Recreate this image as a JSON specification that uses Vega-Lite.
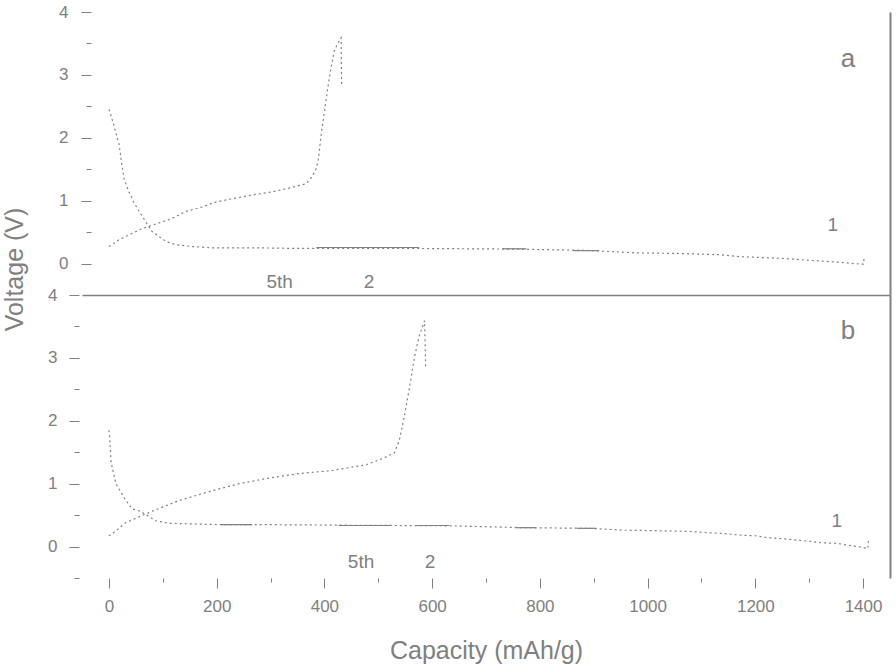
{
  "$schema": "https://vega.github.io/schema/vega-lite/v6.json",
  "background": "white",
  "padding": {"left": 2, "top": 3, "right": 3, "bottom": 4},
  "spacing": 0,
  "bounds": "flush",
  "config": {
    "view": {"stroke": null},
    "axis": {"labelFont": "Liberation Sans", "titleFont": "Liberation Sans", "labelColor": "#808080", "titleColor": "#808080", "tickColor": "#808080", "domainColor": "#808080", "titleFontWeight": "normal", "grid": false},
    "text": {"font": "Liberation Sans", "color": "#808080"}
  },
  "datasets": {
    "top": [
      {"cap": 0, "v": 2.45, "s": "discharge"}, {"cap": 2, "v": 2.41, "s": "discharge"}, {"cap": 9, "v": 2.2, "s": "discharge"}, {"cap": 19, "v": 1.89, "s": "discharge"}, {"cap": 24, "v": 1.57, "s": "discharge"}, {"cap": 28, "v": 1.35, "s": "discharge"}, {"cap": 37, "v": 1.14, "s": "discharge"}, {"cap": 46, "v": 0.98, "s": "discharge"}, {"cap": 56, "v": 0.83, "s": "discharge"}, {"cap": 80, "v": 0.51, "s": "discharge"}, {"cap": 106, "v": 0.35, "s": "discharge"}, {"cap": 124, "v": 0.3, "s": "discharge"}, {"cap": 154, "v": 0.27, "s": "discharge"}, {"cap": 192, "v": 0.25, "s": "discharge"}, {"cap": 275, "v": 0.25, "s": "discharge"}, {"cap": 353, "v": 0.24, "s": "discharge"}, {"cap": 576, "v": 0.24, "s": "discharge"}, {"cap": 750, "v": 0.23, "s": "discharge"}, {"cap": 886, "v": 0.21, "s": "discharge"}, {"cap": 978, "v": 0.17, "s": "discharge"}, {"cap": 1060, "v": 0.16, "s": "discharge"}, {"cap": 1135, "v": 0.14, "s": "discharge"}, {"cap": 1171, "v": 0.11, "s": "discharge"}, {"cap": 1200, "v": 0.1, "s": "discharge"}, {"cap": 1255, "v": 0.08, "s": "discharge"}, {"cap": 1303, "v": 0.05, "s": "discharge"}, {"cap": 1358, "v": 0.02, "s": "discharge"}, {"cap": 1383, "v": 0.0, "s": "discharge"}, {"cap": 1401, "v": -0.01, "s": "discharge"}, {"cap": 1402, "v": 0.11, "s": "discharge"},
      {"cap": 0, "v": 0.27, "s": "charge"}, {"cap": 9, "v": 0.32, "s": "charge"}, {"cap": 19, "v": 0.38, "s": "charge"}, {"cap": 60, "v": 0.55, "s": "charge"}, {"cap": 115, "v": 0.71, "s": "charge"}, {"cap": 143, "v": 0.83, "s": "charge"}, {"cap": 173, "v": 0.9, "s": "charge"}, {"cap": 199, "v": 0.98, "s": "charge"}, {"cap": 229, "v": 1.03, "s": "charge"}, {"cap": 266, "v": 1.09, "s": "charge"}, {"cap": 303, "v": 1.14, "s": "charge"}, {"cap": 340, "v": 1.21, "s": "charge"}, {"cap": 366, "v": 1.27, "s": "charge"}, {"cap": 377, "v": 1.38, "s": "charge"}, {"cap": 385, "v": 1.51, "s": "charge"}, {"cap": 389, "v": 1.67, "s": "charge"}, {"cap": 394, "v": 2.05, "s": "charge"}, {"cap": 400, "v": 2.41, "s": "charge"}, {"cap": 406, "v": 2.78, "s": "charge"}, {"cap": 412, "v": 3.1, "s": "charge"}, {"cap": 418, "v": 3.37, "s": "charge"}, {"cap": 424, "v": 3.49, "s": "charge"}, {"cap": 431, "v": 3.59, "s": "charge"}, {"cap": 432, "v": 2.83, "s": "charge"}
    ],
    "topSolid": [
      {"cap": 385, "v": 0.255, "s": "a"}, {"cap": 576, "v": 0.255, "s": "a"},
      {"cap": 730, "v": 0.235, "s": "b"}, {"cap": 775, "v": 0.235, "s": "b"},
      {"cap": 862, "v": 0.205, "s": "c"}, {"cap": 910, "v": 0.205, "s": "c"}
    ],
    "bottom": [
      {"cap": 0, "v": 1.85, "s": "discharge"}, {"cap": 1, "v": 1.78, "s": "discharge"}, {"cap": 4, "v": 1.34, "s": "discharge"}, {"cap": 13, "v": 1.0, "s": "discharge"}, {"cap": 28, "v": 0.78, "s": "discharge"}, {"cap": 43, "v": 0.6, "s": "discharge"}, {"cap": 59, "v": 0.56, "s": "discharge"}, {"cap": 87, "v": 0.41, "s": "discharge"}, {"cap": 112, "v": 0.37, "s": "discharge"}, {"cap": 200, "v": 0.35, "s": "discharge"}, {"cap": 266, "v": 0.35, "s": "discharge"}, {"cap": 430, "v": 0.34, "s": "discharge"}, {"cap": 630, "v": 0.33, "s": "discharge"}, {"cap": 770, "v": 0.3, "s": "discharge"}, {"cap": 890, "v": 0.29, "s": "discharge"}, {"cap": 958, "v": 0.26, "s": "discharge"}, {"cap": 1032, "v": 0.25, "s": "discharge"}, {"cap": 1079, "v": 0.24, "s": "discharge"}, {"cap": 1112, "v": 0.22, "s": "discharge"}, {"cap": 1138, "v": 0.21, "s": "discharge"}, {"cap": 1175, "v": 0.18, "s": "discharge"}, {"cap": 1203, "v": 0.17, "s": "discharge"}, {"cap": 1223, "v": 0.14, "s": "discharge"}, {"cap": 1242, "v": 0.13, "s": "discharge"}, {"cap": 1268, "v": 0.11, "s": "discharge"}, {"cap": 1305, "v": 0.08, "s": "discharge"}, {"cap": 1323, "v": 0.06, "s": "discharge"}, {"cap": 1353, "v": 0.05, "s": "discharge"}, {"cap": 1372, "v": 0.02, "s": "discharge"}, {"cap": 1390, "v": 0.0, "s": "discharge"}, {"cap": 1409, "v": -0.03, "s": "discharge"}, {"cap": 1410, "v": 0.1, "s": "discharge"},
      {"cap": 0, "v": 0.17, "s": "charge"}, {"cap": 13, "v": 0.25, "s": "charge"}, {"cap": 31, "v": 0.38, "s": "charge"}, {"cap": 74, "v": 0.54, "s": "charge"}, {"cap": 106, "v": 0.65, "s": "charge"}, {"cap": 130, "v": 0.73, "s": "charge"}, {"cap": 192, "v": 0.89, "s": "charge"}, {"cap": 242, "v": 1.0, "s": "charge"}, {"cap": 291, "v": 1.08, "s": "charge"}, {"cap": 353, "v": 1.16, "s": "charge"}, {"cap": 415, "v": 1.21, "s": "charge"}, {"cap": 477, "v": 1.3, "s": "charge"}, {"cap": 508, "v": 1.4, "s": "charge"}, {"cap": 530, "v": 1.49, "s": "charge"}, {"cap": 539, "v": 1.69, "s": "charge"}, {"cap": 548, "v": 2.05, "s": "charge"}, {"cap": 558, "v": 2.53, "s": "charge"}, {"cap": 567, "v": 3.0, "s": "charge"}, {"cap": 576, "v": 3.35, "s": "charge"}, {"cap": 586, "v": 3.59, "s": "charge"}, {"cap": 588, "v": 2.86, "s": "charge"}
    ],
    "bottomSolid": [
      {"cap": 208, "v": 0.35, "s": "a"}, {"cap": 266, "v": 0.35, "s": "a"},
      {"cap": 426, "v": 0.335, "s": "b"}, {"cap": 522, "v": 0.335, "s": "b"},
      {"cap": 569, "v": 0.335, "s": "c"}, {"cap": 632, "v": 0.335, "s": "c"},
      {"cap": 754, "v": 0.3, "s": "d"}, {"cap": 793, "v": 0.3, "s": "d"},
      {"cap": 869, "v": 0.29, "s": "e"}, {"cap": 905, "v": 0.29, "s": "e"}
    ],
    "topText": [
      {"cap": 1372, "v": 3.26, "t": "a", "k": "panel"},
      {"cap": 1344, "v": 0.62, "t": "1", "k": "note"},
      {"cap": 317, "v": -0.29, "t": "5th", "k": "note"},
      {"cap": 483, "v": -0.3, "t": "2", "k": "note"}
    ],
    "bottomText": [
      {"cap": 1372, "v": 3.42, "t": "b", "k": "panel"},
      {"cap": 1351, "v": 0.41, "t": "1", "k": "note"},
      {"cap": 468, "v": -0.24, "t": "5th", "k": "note"},
      {"cap": 596, "v": -0.24, "t": "2", "k": "note"}
    ]
  },
  "vconcat": [
    {
      "width": 808,
      "height": 283,
      "resolve": {"axis": {"y": "independent"}},
      "layer": [
        {
          "data": {"name": "top"},
          "mark": {"type": "line", "strokeDash": [2, 3], "strokeWidth": 1.2, "color": "#808080"},
          "encoding": {
            "x": {"field": "cap", "type": "quantitative", "scale": {"domain": [-50, 1450], "nice": false, "zero": false},
              "axis": {"orient": "bottom", "domain": true, "ticks": false, "labels": false, "title": null, "domainWidth": 1.5}},
            "y": {"field": "v", "type": "quantitative", "scale": {"domain": [-0.5, 4], "nice": false, "zero": false},
              "axis": {"orient": "left", "domain": false, "offset": -9, "values": [0, 0.5, 1, 1.5, 2, 2.5, 3, 3.5, 4],
                "tickSize": {"condition": {"test": "datum.value % 1 !== 0", "value": 5}, "value": 10},
                "labelExpr": "datum.value % 1 === 0 ? format(datum.value, 'd') : ''", "labelFontSize": 17, "labelPadding": 13,
                "title": "Voltage (V)", "titleFontSize": 25, "titleX": -77, "titleY": 257, "titleAngle": 270, "titleBaseline": "middle"}},
            "detail": {"field": "s", "type": "nominal"}
          }
        },
        {
          "data": {"name": "topSolid"},
          "mark": {"type": "line", "strokeWidth": 1.2, "color": "#808080"},
          "encoding": {
            "x": {"field": "cap", "type": "quantitative"},
            "y": {"field": "v", "type": "quantitative",
              "axis": {"orient": "right", "domain": true, "domainWidth": 2, "ticks": false, "labels": false, "title": null}},
            "detail": {"field": "s", "type": "nominal"}
          }
        },
        {
          "data": {"name": "topText"},
          "transform": [{"filter": "datum.k === 'panel'"}],
          "mark": {"type": "text", "fontSize": 26, "color": "#808080"},
          "encoding": {
            "x": {"field": "cap", "type": "quantitative"},
            "y": {"field": "v", "type": "quantitative", "axis": null},
            "text": {"field": "t"}
          }
        },
        {
          "data": {"name": "topText"},
          "transform": [{"filter": "datum.k === 'note'"}],
          "mark": {"type": "text", "fontSize": 19, "color": "#808080"},
          "encoding": {
            "x": {"field": "cap", "type": "quantitative"},
            "y": {"field": "v", "type": "quantitative", "axis": null},
            "text": {"field": "t"}
          }
        }
      ]
    },
    {
      "width": 808,
      "height": 283,
      "resolve": {"axis": {"y": "independent"}},
      "layer": [
        {
          "data": {"name": "bottom"},
          "mark": {"type": "line", "strokeDash": [2, 3], "strokeWidth": 1.2, "color": "#808080"},
          "encoding": {
            "x": {"field": "cap", "type": "quantitative", "scale": {"domain": [-50, 1450], "nice": false, "zero": false},
              "axis": {"orient": "bottom", "domain": false, "values": [0, 100, 200, 300, 400, 500, 600, 700, 800, 900, 1000, 1100, 1200, 1300, 1400],
                "tickSize": {"condition": {"test": "datum.value % 200 !== 0", "value": 4}, "value": 10},
                "labelExpr": "datum.value % 200 === 0 ? format(datum.value, 'd') : ''", "labelFontSize": 17, "labelPadding": 10,
                "title": "Capacity (mAh/g)", "titleFontSize": 25, "titlePadding": 24}},
            "y": {"field": "v", "type": "quantitative", "scale": {"domain": [-0.5, 4], "nice": false, "zero": false},
              "axis": {"orient": "left", "domain": false, "offset": 3, "values": [-0.5, 0, 0.5, 1, 1.5, 2, 2.5, 3, 3.5, 4],
                "tickSize": {"condition": {"test": "datum.value % 1 !== 0", "value": 5}, "value": 10},
                "labelExpr": "datum.value % 1 === 0 ? format(datum.value, 'd') : ''", "labelFontSize": 17, "labelPadding": 12,
                "title": null}},
            "detail": {"field": "s", "type": "nominal"}
          }
        },
        {
          "data": {"name": "bottomSolid"},
          "mark": {"type": "line", "strokeWidth": 1.2, "color": "#808080"},
          "encoding": {
            "x": {"field": "cap", "type": "quantitative"},
            "y": {"field": "v", "type": "quantitative",
              "axis": {"orient": "right", "domain": true, "domainWidth": 2, "ticks": false, "labels": false, "title": null}},
            "detail": {"field": "s", "type": "nominal"}
          }
        },
        {
          "data": {"name": "bottomText"},
          "transform": [{"filter": "datum.k === 'panel'"}],
          "mark": {"type": "text", "fontSize": 26, "color": "#808080"},
          "encoding": {
            "x": {"field": "cap", "type": "quantitative"},
            "y": {"field": "v", "type": "quantitative", "axis": null},
            "text": {"field": "t"}
          }
        },
        {
          "data": {"name": "bottomText"},
          "transform": [{"filter": "datum.k === 'note'"}],
          "mark": {"type": "text", "fontSize": 19, "color": "#808080"},
          "encoding": {
            "x": {"field": "cap", "type": "quantitative"},
            "y": {"field": "v", "type": "quantitative", "axis": null},
            "text": {"field": "t"}
          }
        }
      ]
    }
  ]
}
